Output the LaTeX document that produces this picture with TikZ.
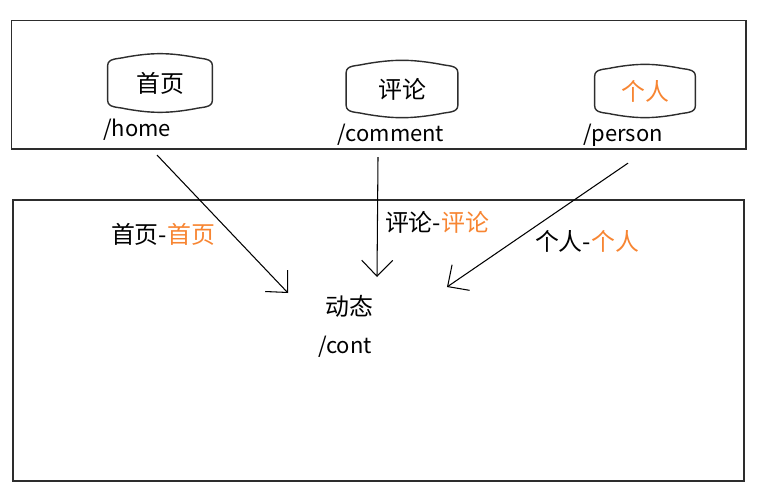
\documentclass[tikz,border=0pt]{standalone}
\usepackage{fontspec}
\setmainfont{Noto Sans CJK SC}
\usetikzlibrary{arrows.meta}
\definecolor{orng}{RGB}{247,133,50}
\definecolor{dgray}{RGB}{45,45,45}

% outline of a page node: straight sides, slightly bulging top and bottom
\newcommand{\barrel}[1]{%
  \draw[barrelline] ([yshift=-0.26cm]#1.north west)
    to[out=90,in=195] ([xshift=0.36cm,yshift=-0.09cm]#1.north west)
    to[out=10,in=170] ([xshift=-0.36cm,yshift=-0.09cm]#1.north east)
    to[out=-15,in=90] ([yshift=-0.26cm]#1.north east)
    -- ([yshift=0.26cm]#1.south east)
    to[out=-90,in=15] ([xshift=-0.36cm,yshift=0.09cm]#1.south east)
    to[out=190,in=-10] ([xshift=0.36cm,yshift=0.09cm]#1.south west)
    to[out=165,in=-90] ([yshift=0.26cm]#1.south west)
    -- cycle;}

\begin{document}
\begin{tikzpicture}[x=0.02cm, y=-0.02cm, font=\fontsize{13.6}{16}\selectfont,
    frame/.style={draw=dgray, line width=1.1pt},
    pagebox/.style n args={2}{minimum width=#1, minimum height=#2,
                              inner sep=0pt},
    barrelline/.style={draw=dgray, line width=0.8pt},
    url/.style={anchor=base, inner sep=1pt,
                font=\fontsize{12.5}{15}\selectfont},
    flow/.style={-{Straight Barb[length=0.32cm, width=0.62cm]},
                 line width=0.6pt}]

\useasboundingbox (0,0) rectangle (770,493);

% ════════════════════════════════════════
%  TOP: navigation pages
% ════════════════════════════════════════

\draw[frame] (11.5,20.5) rectangle (746,149);

% Pages
\node[pagebox={2.08cm}{1.2cm}] (home) at (160,83) {首页};
\node[pagebox={2.22cm}{1.16cm}] (comment) at (402,89) {评论};
\node[pagebox={2.0cm}{1.1cm}, text=orng] (person) at (645,91) {个人};
\barrel{home}
\barrel{comment}
\barrel{person}

% Routes
\node[url] (home-url) at (137,137) {/home};
\node[url] (comment-url) at (391,142) {/comment};
\node[url] (person-url) at (623,142) {/person};

% ════════════════════════════════════════
%  BOTTOM: shared content page
% ════════════════════════════════════════

\draw[frame] (13,200) rectangle (744,481);

\node (dyn) at (349,306) {动态};
\node[url] (dyn-url) at (345,353) {/cont};

% Flow labels
\node (home-tag) at (163,234) {首页-\textcolor{orng}{首页}};
\node (comment-tag) at (437,222) {评论-\textcolor{orng}{评论}};
\node (person-tag) at (587,241) {个人-\textcolor{orng}{个人}};

% Arrows into the content page
\draw[flow] ([xshift=0.4cm, yshift=-0.24cm]home-url.south)
    -- ([xshift=-1.22cm, yshift=0.26cm]dyn.center);
\draw[flow] ([xshift=-0.26cm, yshift=-0.18cm]comment-url.south)
    -- ([xshift=0.56cm, yshift=0.58cm]dyn.center);
\draw[flow] ([xshift=0.1cm, yshift=-0.28cm]person-url.south)
    -- ([xshift=1.96cm, yshift=0.38cm]dyn.center);

\end{tikzpicture}
\end{document}
